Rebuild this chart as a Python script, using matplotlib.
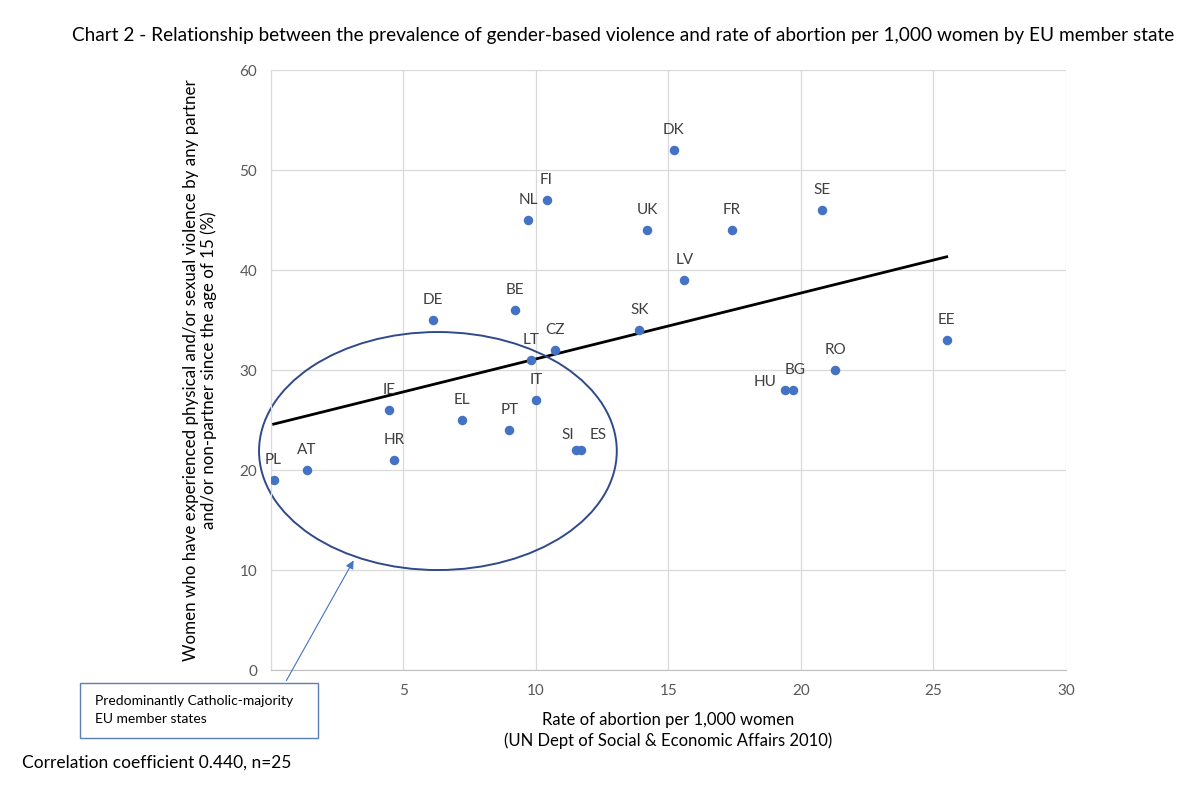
import matplotlib as mpl
import matplotlib.pyplot as plt
from matplotlib.patches import Ellipse, Rectangle
import numpy as np

plt.rcParams.update({'font.family': ['Lato', 'DejaVu Sans'], 'font.size': 11})

# data
countries = ['PL', 'AT', 'HR', 'IE', 'EL', 'PT', 'IT', 'LT', 'CZ', 'BE', 'NL', 'FI', 'DK',
             'UK', 'FR', 'LV', 'SK', 'SI', 'ES', 'DE', 'HU', 'BG', 'RO', 'SE', 'EE']
abortion_rate = [0.1, 1.35, 4.65, 4.45, 7.2, 9.0, 10.0, 9.8, 10.7, 9.2, 9.7, 10.4, 15.2,
                 14.2, 17.4, 15.6, 13.9, 11.5, 11.7, 6.1, 19.4, 19.7, 21.3, 20.8, 25.5]
violence_pct = [19, 20, 21, 26, 25, 24, 27, 31, 32, 36, 45, 47, 52,
                44, 44, 39, 34, 22, 22, 35, 28, 28, 30, 46, 33]
# label offsets in pixels where the default (straight above) is not used
label_offsets = {'HU': (-20, 8), 'BG': (2, 20), 'SI': (-8, 15), 'ES': (17, 15)}

x_ticks = [0, 5, 10, 15, 20, 25, 30]
x_tick_labels = ['', '5', '10', '15', '20', '25', '30']   # the 0 sits under the callout box
y_ticks = [0, 10, 20, 30, 40, 50, 60]

dot_blue = '#4472C4'
grey_txt = '#595959'

fig = plt.figure(figsize=(12, 7.95), dpi=100)
ax = fig.add_axes([0.2258, 0.1572, 0.6625, 0.7547])

ax.scatter(abortion_rate, violence_pct, s=34, color=dot_blue, zorder=3)
for c, x, y in zip(countries, abortion_rate, violence_pct):
    off = label_offsets.get(c, (0, 20))
    ax.annotate(c, (x, y), xytext=off, textcoords='offset pixels', ha='center', va='center',
                fontsize=11, color='#404040')

# linear trendline
xs = np.array(abortion_rate)
slope, icpt = np.polyfit(xs, np.array(violence_pct), 1)
tx = np.array([xs.min(), xs.max()])
ax.plot(tx, slope * tx + icpt, color='black', lw=2.0, zorder=2)

# ellipse round the catholic-majority states
ax.add_patch(Ellipse((6.3, 21.9), 13.5, 23.8, fill=False, edgecolor='#2F4A8A', lw=1.4,
                     zorder=2, clip_on=False))

ax.set_xlim(0, 30)
ax.set_ylim(0, 60)
ax.set_xticks(x_ticks, x_tick_labels)
ax.set_yticks(y_ticks)
ax.tick_params(length=0, labelsize=11, colors=grey_txt, pad=10)
ax.grid(True, color='#D9D9D9', lw=0.9)
ax.set_axisbelow(True)
for s in ['top', 'right']:
    ax.spines[s].set_visible(False)
ax.spines['left'].set_color('#D9D9D9')
ax.spines['bottom'].set_color('#BFBFBF')

ax.set_ylabel('Women who have experienced physical and/or sexual violence by any partner\n'
              'and/or non-partner since the age of 15 (%)', fontsize=12.2, labelpad=16, linespacing=1.1)
ax.set_xlabel('Rate of abortion per 1,000 women\n(UN Dept of Social & Economic Affairs 2010)',
              fontsize=12, labelpad=10, linespacing=1.35)

fig.text(0.06, 1 - 35 / 795, 'Chart 2 - Relationship between the prevalence of gender-based violence '
         'and rate of abortion per 1,000 women by EU member state', fontsize=13.7, va='center')
fig.text(22 / 1200, 1 - 763 / 795, 'Correlation coefficient 0.440, n=25', fontsize=12.5, va='center')

# callout box + arrow
box = Rectangle((80 / 1200, 1 - 738 / 795), 238 / 1200, 55 / 795, transform=fig.transFigure,
                facecolor='white', edgecolor='#5B7DB8', lw=1.0, zorder=5)
fig.add_artist(box)
fig.text(95 / 1200, 1 - 710 / 795, 'Predominantly Catholic-majority\nEU member states',
         fontsize=10, va='center', linespacing=1.6, zorder=6)
ax.annotate('', xy=(3.17, 11.2), xytext=(285 / 1200, 1 - 683 / 795), textcoords='figure fraction',
            arrowprops=dict(arrowstyle='-|>', color=dot_blue, lw=0.8, mutation_scale=12),
            annotation_clip=False)

fig.savefig('out.png', dpi=100)
